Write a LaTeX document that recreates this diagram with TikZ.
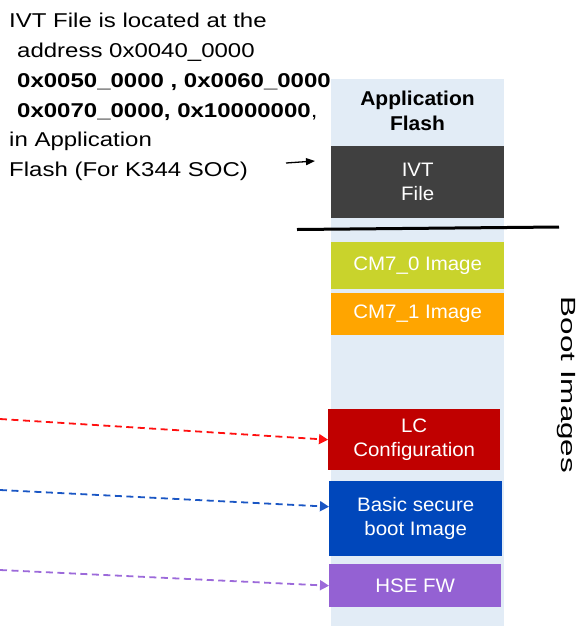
\documentclass[tikz,border=0pt]{standalone}
\usepackage{fontspec}
\setmainfont{Liberation Sans}
\newfontfamily\noteFont[FakeStretch=1.2]{Liberation Sans}
\newfontfamily\boxFont[FakeStretch=1.05]{Liberation Sans}
\newfontfamily\sideFont[FakeStretch=1.53]{Liberation Sans}
\usetikzlibrary{positioning, arrows.meta}
\definecolor{fBack}{HTML}{E2ECF6}
\definecolor{fIvt}{HTML}{404040}
\definecolor{fCmA}{HTML}{C9D32C}
\definecolor{fCmB}{HTML}{FFA500}
\definecolor{fLc}{HTML}{C00000}
\definecolor{fBsb}{HTML}{0047BB}
\definecolor{fHse}{HTML}{9461D3}
\definecolor{aRed}{HTML}{FF1010}
\definecolor{aBlue}{HTML}{1A56C4}
\definecolor{aPurple}{HTML}{9C6ADA}

\begin{document}
\begin{tikzpicture}[x=1pt, y=-1pt, >=Stealth,
  imgbox/.style={anchor=north west, inner sep=0pt, text=white, align=center, font=\boxFont\fontsize{19.5}{24}\selectfont},
  feed/.style={-{Triangle[length=9pt, width=10pt]}, line width=1.8pt, dash pattern=on 7pt off 4.5pt}]
  \useasboundingbox (0,0) rectangle (586,630);
  % flash column
  \node[fill=fBack, anchor=north west, minimum width=173, minimum height=547, inner sep=0pt] (flash) at (331,79) {};
  \node[font=\boxFont\bfseries\fontsize{20}{24.5}\selectfont, align=center, inner sep=0pt] (flashlbl) at (417.5,111) {Application\\Flash};
  \node[imgbox, fill=fIvt, minimum width=173, minimum height=72] (ivt) at (331,146) {IVT\\File};
  \node[imgbox, fill=fCmA, minimum width=173, minimum height=47] (cm0) at (331,242) {CM7\_0 Image};
  \node[imgbox, fill=fCmB, minimum width=173, minimum height=42] (cm1) at (331,293) {CM7\_1 Image};
  \node[imgbox, fill=fLc, minimum width=172, minimum height=61] (lc) at (328,409) {LC\\Configuration};
  \node[imgbox, fill=fBsb, minimum width=173, minimum height=75] (bsb) at (329,481) {Basic secure\\boot Image};
  \node[imgbox, fill=fHse, minimum width=172, minimum height=43] (hse) at (329,564) {HSE FW};
  \node[rotate=-90, inner sep=0pt, font=\sideFont\fontsize{20.5}{24}\selectfont] (bootlbl) at (566,385) {Boot Images};
  % note on the left
  \foreach \k/\x/\txt in {1/9/{IVT File is located at the}, 2/17/{address 0x0040\_0000},
      3/17/{\textbf{0x0050\_0000 , 0x0060\_0000}}, 4/17/{\textbf{0x0070\_0000, 0x10000000},},
      5/9/{in Application}, 6/9/{Flash (For K344 SOC)}}
    \node[anchor=base west, inner sep=0pt, font=\noteFont\fontsize{20}{24}\selectfont] (ln\k) at (\x,{27.6+29.8*(\k-1)}) {\txt};
  \coordinate (ptrA) at (286,163);
  \coordinate (ptrB) at (315,161);
  \draw[-{Triangle[length=9pt, width=7pt]}, line width=1.3pt] (ptrA) -- (ptrB);
  % divider
  \coordinate (cutL) at (297,229.5);
  \coordinate (cutR) at (559,227);
  \draw[line width=3pt] (cutL) -- (cutR);
  % incoming links
  \coordinate (lcsrc) at (0,419);
  \coordinate (bsbsrc) at (0,490);
  \coordinate (hsesrc) at (0,570);
  \draw[feed, aRed] (lcsrc) -- (lc.west);
  \draw[feed, aBlue] (bsbsrc) -- ([yshift=12pt]bsb.west);
  \draw[feed, aPurple] (hsesrc) -- (hse.west);
\end{tikzpicture}
\end{document}
